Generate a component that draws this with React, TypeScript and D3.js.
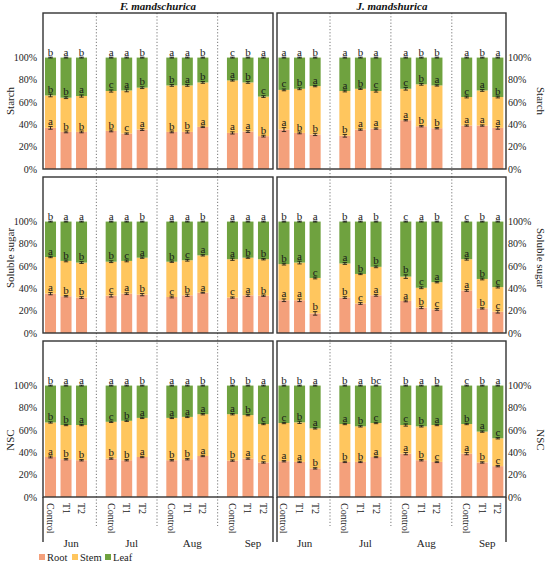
import React from "react";
import * as d3 from "d3";

// categories
const months = ["Jun", "Jul", "Aug", "Sep"];
const treatments = ["Control", "T1", "T2"];
const species = ["F. mandschurica", "J. mandshurica"];
const indicators = ["Starch", "Soluble sugar", "NSC"];
const parts = ["Root", "Stem", "Leaf"];
const yTicks = [0, 20, 40, 60, 80, 100];

// share of each organ (%), bars ordered Jun C,T1,T2 / Jul / Aug / Sep
const fStarchRoot = [36.9, 33.3, 33.3, 34.2, 31.8, 35.4, 33.3, 33.3, 37.8, 32.4, 33.6, 29.5];
const fStarchStem = [29.1, 30.7, 32.2, 35.8, 38.7, 37.6, 41.7, 41.7, 39.9, 47.1, 44.1, 35.5];
const fStarchRootErr = [1.2, 0.8, 0.8, 0.8, 0.6, 0.8, 0.8, 1.0, 0.6, 1.0, 0.8, 0.8];
const fStarchStemErr = [1.2, 0.8, 1.0, 1.0, 1.2, 0.8, 0.8, 0.8, 0.8, 0.6, 0.8, 0.8];
const fStarchSig = ["a b b b c a b b a a a b", "b b a c a b b a b a b c", "b a b a a b a a b c b a"];

const jStarchRoot = [35.4, 32.4, 31.0, 29.8, 35.4, 36.3, 43.8, 38.4, 36.6, 39.0, 39.0, 36.9];
const jStarchStem = [35.6, 39.6, 43.4, 40.2, 36.6, 33.7, 28.2, 37.6, 38.4, 25.6, 31.5, 27.7];
const jStarchRootErr = [1.8, 0.8, 1.0, 1.2, 0.6, 0.6, 0.6, 0.6, 0.6, 0.6, 0.6, 1.2];
const jStarchStemErr = [0.8, 0.8, 0.6, 0.8, 0.6, 1.0, 1.2, 0.8, 0.6, 0.8, 0.8, 0.8];
const jStarchSig = ["a b b b a a a b b a a a", "c b a a b c c b a c a b", "a a b a b a a b b a b a"];

const fSugarRoot = [35.3, 33.0, 31.8, 33.5, 35.3, 34.4, 32.3, 33.8, 36.2, 31.8, 33.8, 33.5];
const fSugarStem = [32.9, 31.7, 31.4, 30.5, 29.4, 33.2, 31.7, 31.5, 33.5, 34.4, 33.8, 32.7];
const fSugarRootErr = [1.0, 0.6, 0.8, 1.2, 0.8, 1.0, 0.8, 1.0, 0.4, 0.6, 1.0, 0.6];
const fSugarStemErr = [0.6, 0.8, 0.8, 0.8, 0.8, 0.6, 0.6, 0.8, 0.6, 1.0, 0.6, 0.6];
const fSugarSig = ["a b b c a b c b a c a b", "a b b b c a b c a a b b", "b a a a a b a a b a a a"];

const jSugarRoot = [29.4, 29.4, 17.6, 31.8, 26.5, 33.8, 28.8, 22.9, 21.2, 38.2, 22.1, 19.1];
const jSugarStem = [32.4, 33.8, 31.8, 30.6, 26.5, 25.6, 21.8, 17.7, 24.4, 28.0, 26.4, 22.1];
const jSugarRootErr = [1.2, 1.2, 1.6, 0.8, 0.8, 0.8, 0.8, 1.0, 0.8, 0.8, 0.6, 1.2];
const jSugarStemErr = [0.8, 1.2, 0.8, 0.8, 0.6, 0.8, 1.6, 0.8, 0.6, 0.8, 0.8, 0.8];
const jSugarSig = ["a a b b c a a b c a b c", "b a c a b b b c a a b c", "b b a b a b c a b c b a"];

const fNscRoot = [35.9, 33.9, 33.0, 34.5, 33.0, 35.9, 33.0, 33.9, 36.8, 32.7, 34.5, 31.0];
const fNscStem = [31.0, 30.7, 31.6, 33.0, 35.4, 35.1, 38.0, 38.0, 37.5, 41.6, 39.0, 34.5];
const fNscRootErr = [0.8, 0.6, 0.6, 0.6, 0.6, 0.6, 0.6, 0.6, 0.6, 0.6, 0.6, 0.6];
const fNscStemErr = [0.6, 0.6, 0.6, 0.6, 0.6, 0.6, 0.6, 0.6, 0.6, 0.6, 0.6, 0.6];
const fNscSig = ["a b b b b a b b a b a c", "b b a c b a a a a a b c", "b a a a a b a a b b b a"];

const jNscRoot = [32.1, 31.5, 25.7, 31.5, 31.5, 35.9, 38.9, 33.0, 31.5, 38.9, 31.0, 27.7];
const jNscStem = [34.3, 35.5, 35.9, 34.0, 31.9, 30.5, 25.7, 30.4, 33.1, 26.6, 27.7, 25.0];
const jNscRootErr = [0.6, 0.6, 0.6, 0.6, 0.6, 0.6, 1.0, 0.6, 0.6, 1.0, 0.6, 0.6];
const jNscStemErr = [0.6, 1.0, 0.6, 0.6, 0.6, 0.6, 1.0, 0.6, 0.6, 0.6, 0.6, 0.6];
const jNscSig = ["a a b b b a a b c a b c", "c b a a b c c b a b a c", "b b a b a bc b a b c b a"];

const panels = [
  { row: 0, col: 0, root: fStarchRoot, stem: fStarchStem, rootErr: fStarchRootErr, stemErr: fStarchStemErr, sig: fStarchSig },
  { row: 0, col: 1, root: jStarchRoot, stem: jStarchStem, rootErr: jStarchRootErr, stemErr: jStarchStemErr, sig: jStarchSig },
  { row: 1, col: 0, root: fSugarRoot, stem: fSugarStem, rootErr: fSugarRootErr, stemErr: fSugarStemErr, sig: fSugarSig },
  { row: 1, col: 1, root: jSugarRoot, stem: jSugarStem, rootErr: jSugarRootErr, stemErr: jSugarStemErr, sig: jSugarSig },
  { row: 2, col: 0, root: fNscRoot, stem: fNscStem, rootErr: fNscRootErr, stemErr: fNscStemErr, sig: fNscSig },
  { row: 2, col: 1, root: jNscRoot, stem: jNscStem, rootErr: jNscRootErr, stemErr: jNscStemErr, sig: jNscSig },
];

const W = 550;
const H = 562;
const colors = ["#F4A07B", "#FFC65E", "#6FA23F"];
const font = "Liberation Serif, Times New Roman, serif";
const frameColor = "#333";

// layout
const cols = [
  { frame: [43, 273], band: [35.7, 278.3], titleX: 158 },
  { frame: [277, 506], band: [269.1, 512.7], titleX: 392 },
];
const rowTop = [13, 177, 341];
const rowBottom = [169, 333, 497];
const rowTitleY = [101, 258, 440];
const labelTop = 503;

const Panel = ({ p }) => {
  const col = cols[p.col];
  const top = rowTop[p.row];
  const bottom = rowBottom[p.row];
  const x0 = d3.scaleBand().domain(months).range(col.band as [number, number]);
  const x1 = d3
    .scaleBand()
    .domain(treatments)
    .range([0, x0.bandwidth()])
    .paddingInner(0.29)
    .paddingOuter(0.6);
  const y = d3.scaleLinear().domain([0, 140]).range([bottom, top]);

  const rows = p.root.map((r, i) => ({
    i,
    month: months[Math.floor(i / 3)],
    trt: treatments[i % 3],
    Root: r,
    Stem: p.stem[i],
    Leaf: 100 - r - p.stem[i],
  }));
  const series = d3.stack().keys(parts)(rows as any);
  const sig = p.sig.map((s) => s.split(" "));
  const bx = (d) => (x0(d.month) as number) + (x1(d.trt) as number);
  const bw = x1.bandwidth();

  const errBar = (cx, v, e, key) => (
    <g key={key} stroke="#111" strokeWidth={0.8}>
      <line x1={cx} x2={cx} y1={y(v - e)} y2={y(v + e)} />
      <line x1={cx - 2.2} x2={cx + 2.2} y1={y(v - e)} y2={y(v - e)} />
      <line x1={cx - 2.2} x2={cx + 2.2} y1={y(v + e)} y2={y(v + e)} />
    </g>
  );

  const letter = (cx, yy, s) => (
    <text x={cx} y={yy} textAnchor="middle" fontSize={11} fontFamily={font} fill="#1a1a1a">
      {s}
    </text>
  );

  const right = p.col === 1;
  return (
    <g>
      {series.map((s, k) => (
        <g key={k} fill={colors[k]}>
          {s.map((seg, i) => (
            <rect key={i} x={bx(rows[i])} width={bw} y={y(seg[1])} height={y(seg[0]) - y(seg[1])} />
          ))}
        </g>
      ))}
      {rows.map((d) => {
        const cx = bx(d) + bw / 2;
        const rootTop = d.Root;
        const stemTop = d.Root + d.Stem;
        const rE = p.rootErr[d.i];
        const sE = p.stemErr[d.i];
        return (
          <g key={d.i}>
            {errBar(cx, rootTop, rE, "r")}
            {errBar(cx, stemTop, sE, "s")}
            {errBar(cx, 100, 0.4, "l")}
            {letter(cx, y(rootTop + rE) - 1.5, sig[0][d.i])}
            {letter(cx, y(stemTop + sE) - 1.5, sig[1][d.i])}
            {letter(cx, y(100.4) - 1.5, sig[2][d.i])}
          </g>
        );
      })}
      <rect
        x={col.frame[0]}
        y={top}
        width={col.frame[1] - col.frame[0]}
        height={bottom - top}
        fill="none"
        stroke={frameColor}
        strokeWidth={1.4}
      />
      {yTicks.map((t) => (
        <text
          key={t}
          x={right ? col.frame[1] + 2 : col.frame[0] - 6}
          y={y(t)}
          dy="0.35em"
          textAnchor={right ? "start" : "end"}
          fontSize={10}
          fontFamily={font}
          fill="#222"
        >
          {t + "%"}
        </text>
      ))}
      <text
        transform={`translate(${right ? 541 : 10},${rowTitleY[p.row]}) rotate(${right ? 90 : -90})`}
        textAnchor="middle"
        dy="0.35em"
        fontSize={11}
        fontFamily={font}
        fill="#222"
      >
        {indicators[p.row]}
      </text>
    </g>
  );
};

export default function App() {
  return (
    <svg
      width={W}
      height={H}
      fontFamily={font}
      style={{ position: "absolute", left: 0, top: 0, background: "#fff" }}
    >
      <rect width={W} height={H} fill="#fff" />
      {cols.map((col, c) => {
        const x0 = d3.scaleBand().domain(months).range(col.band as [number, number]);
        const x1 = d3
          .scaleBand()
          .domain(treatments)
          .range([0, x0.bandwidth()])
          .paddingInner(0.29)
          .paddingOuter(0.6);
        return (
          <g key={c}>
            {/* month separators */}
            {months.slice(1).map((m) => (
              <line
                key={m}
                x1={x0(m)}
                x2={x0(m)}
                y1={rowTop[0]}
                y2={526}
                stroke="#555"
                strokeWidth={0.8}
                strokeDasharray="1.2,2"
              />
            ))}
            {/* frame legs under bottom row */}
            {col.frame.map((fx, j) => (
              <line key={j} x1={fx} x2={fx} y1={rowBottom[2]} y2={542} stroke={frameColor} strokeWidth={1.4} />
            ))}
            <text
              x={col.titleX}
              y={10}
              textAnchor="middle"
              fontSize={11}
              fontWeight="bold"
              fontStyle="italic"
              fontFamily={font}
              fill="#111"
            >
              {species[c]}
            </text>
            {months.map((m) => (
              <g key={m}>
                {treatments.map((t) => (
                  <text
                    key={t}
                    transform={`translate(${(x0(m) as number) + (x1(t) as number) + x1.bandwidth() / 2},${labelTop}) rotate(90)`}
                    dy="0.35em"
                    textAnchor="start"
                    fontSize={10}
                    fontFamily={font}
                    fill="#222"
                  >
                    {t}
                  </text>
                ))}
                <text
                  x={(x0(m) as number) + x0.bandwidth() / 2 + 5}
                  y={547}
                  textAnchor="middle"
                  fontSize={11}
                  fontFamily={font}
                  fill="#222"
                >
                  {m}
                </text>
              </g>
            ))}
          </g>
        );
      })}
      {panels.map((p, i) => (
        <Panel key={i} p={p} />
      ))}
      {parts.map((name, i) => (
        <g key={name} transform={`translate(${39 + i * 33},557)`}>
          <rect x={0} y={-3} width={6} height={6} fill={colors[i]} />
          <text x={8} dy="0.35em" fontSize={10.5} fontFamily={font} fill="#222">
            {name}
          </text>
        </g>
      ))}
    </svg>
  );
}
